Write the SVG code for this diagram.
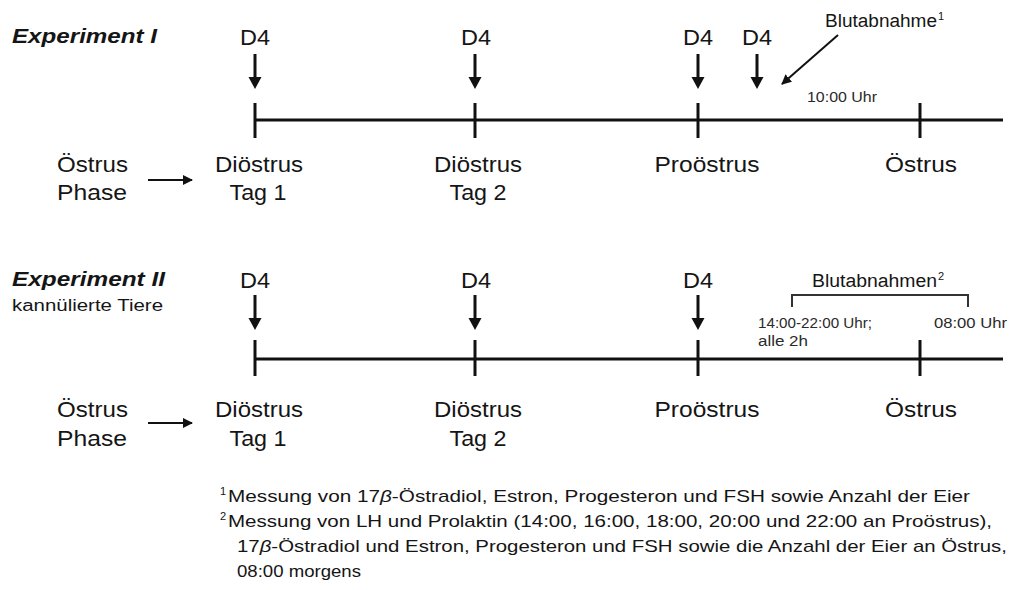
<svg xmlns="http://www.w3.org/2000/svg" width="1010" height="590" viewBox="0 0 1010 590">
  <style>
    text { font-family: "Liberation Sans", Arial, sans-serif; fill: #151515; }
    .title { font-size: 21px; font-weight: bold; font-style: italic; }
    .lbl { font-size: 21.5px; }
    .mid { text-anchor: middle; }
    .sub { font-size: 16px; }
    .small { font-size: 14px; fill: #2a2a2a; }
    .blut { font-size: 18px; }
    .sup { font-size: 11px; }
    .note { font-size: 17px; }
    .axis { stroke: #111; stroke-width: 3; fill: none; }
    .tick { stroke: #111; stroke-width: 3; }
    .shaft { stroke: #111; stroke-width: 3; }
    .head { fill: #111; }
    .thin { stroke: #111; stroke-width: 2; fill: none; }
    .bracket { stroke: #333; stroke-width: 2; fill: none; }
  </style>
  <defs>
    <marker id="tip" viewBox="0 0 10 10" refX="9" refY="5" markerWidth="5" markerHeight="5" orient="auto">
      <path d="M0,0 L10,5 L0,10 Z" fill="#111"/>
    </marker>
    <!-- downward dose arrow, tip at origin -->
    <g id="dose">
      <line class="shaft" x1="0" y1="-35" x2="0" y2="-10"/>
      <path class="head" d="M-6.5,-12 L6.5,-12 L0,0 Z"/>
    </g>
  </defs>

  <rect width="1010" height="590" fill="#ffffff"/>

  <!-- Experiment I -->
  <g id="exp1-title">
    <text class="title" x="12" y="43" textLength="145" lengthAdjust="spacingAndGlyphs">Experiment I</text>
  </g>
  <g id="exp1-timeline">
    <line class="axis" x1="255" y1="120" x2="1003" y2="120"/>
    <line class="tick" x1="255" y1="103" x2="255" y2="138"/>
    <line class="tick" x1="475" y1="103" x2="475" y2="138"/>
    <line class="tick" x1="698" y1="103" x2="698" y2="138"/>
    <line class="tick" x1="920" y1="103" x2="920" y2="138"/>
  </g>
  <g id="exp1-doses">
    <text class="lbl mid" x="255" y="45" textLength="30" lengthAdjust="spacingAndGlyphs">D4</text>
    <use href="#dose" x="255" y="89"/>
    <text class="lbl mid" x="476" y="45" textLength="30" lengthAdjust="spacingAndGlyphs">D4</text>
    <use href="#dose" x="475" y="89"/>
    <text class="lbl mid" x="698" y="45" textLength="30" lengthAdjust="spacingAndGlyphs">D4</text>
    <use href="#dose" x="698" y="89"/>
    <text class="lbl mid" x="757" y="45" textLength="30" lengthAdjust="spacingAndGlyphs">D4</text>
    <use href="#dose" x="757" y="89"/>
  </g>
  <g id="exp1-sampling">
    <text class="blut" x="825" y="27" textLength="112" lengthAdjust="spacingAndGlyphs">Blutabnahme</text>
    <text class="sup" x="938" y="20">1</text>
    <text class="small" x="807" y="102" textLength="70" lengthAdjust="spacingAndGlyphs">10:00 Uhr</text>
  </g>
  <g id="exp1-phases">
    <text class="lbl" x="57" y="172" textLength="71" lengthAdjust="spacingAndGlyphs">Östrus</text>
    <text class="lbl" x="57" y="200" textLength="70" lengthAdjust="spacingAndGlyphs">Phase</text>
    <text class="lbl mid" x="259" y="172" textLength="88" lengthAdjust="spacingAndGlyphs">Diöstrus</text>
    <text class="lbl mid" x="258" y="200" textLength="57" lengthAdjust="spacingAndGlyphs">Tag 1</text>
    <text class="lbl mid" x="478" y="172" textLength="88" lengthAdjust="spacingAndGlyphs">Diöstrus</text>
    <text class="lbl mid" x="478" y="200" textLength="57" lengthAdjust="spacingAndGlyphs">Tag 2</text>
    <text class="lbl mid" x="707" y="172" textLength="105" lengthAdjust="spacingAndGlyphs">Proöstrus</text>
    <text class="lbl mid" x="921" y="172" textLength="72" lengthAdjust="spacingAndGlyphs">Östrus</text>
  </g>

  <!-- Experiment II -->
  <g id="exp2-title">
    <text class="title" x="12" y="286" textLength="153" lengthAdjust="spacingAndGlyphs">Experiment II</text>
    <text class="sub" x="12" y="311" textLength="151" lengthAdjust="spacingAndGlyphs">kannülierte Tiere</text>
  </g>
  <g id="exp2-timeline">
    <line class="axis" x1="255" y1="359" x2="1003" y2="359"/>
    <line class="tick" x1="255" y1="340" x2="255" y2="376"/>
    <line class="tick" x1="475" y1="340" x2="475" y2="376"/>
    <line class="tick" x1="698" y1="340" x2="698" y2="376"/>
    <line class="tick" x1="920" y1="340" x2="920" y2="376"/>
  </g>
  <g id="exp2-doses">
    <text class="lbl mid" x="255" y="288" textLength="30" lengthAdjust="spacingAndGlyphs">D4</text>
    <use href="#dose" x="255" y="330"/>
    <text class="lbl mid" x="476" y="288" textLength="30" lengthAdjust="spacingAndGlyphs">D4</text>
    <use href="#dose" x="475" y="330"/>
    <text class="lbl mid" x="698" y="288" textLength="30" lengthAdjust="spacingAndGlyphs">D4</text>
    <use href="#dose" x="698" y="330"/>
  </g>
  <g id="exp2-sampling">
    <text class="blut" x="812" y="287" textLength="125" lengthAdjust="spacingAndGlyphs">Blutabnahmen</text>
    <text class="sup" x="938" y="280">2</text>
    <path class="bracket" d="M792,307 L792,295 L968,295 L968,307"/>
    <text class="small" x="758" y="328" textLength="114" lengthAdjust="spacingAndGlyphs">14:00-22:00 Uhr;</text>
    <text class="small" x="758" y="346" textLength="50" lengthAdjust="spacingAndGlyphs">alle 2h</text>
    <text class="small" x="934" y="328" textLength="73" lengthAdjust="spacingAndGlyphs">08:00 Uhr</text>
  </g>
  <g id="exp2-phases">
    <text class="lbl" x="57" y="417" textLength="71" lengthAdjust="spacingAndGlyphs">Östrus</text>
    <text class="lbl" x="57" y="446" textLength="70" lengthAdjust="spacingAndGlyphs">Phase</text>
    <text class="lbl mid" x="259" y="417" textLength="88" lengthAdjust="spacingAndGlyphs">Diöstrus</text>
    <text class="lbl mid" x="258" y="446" textLength="57" lengthAdjust="spacingAndGlyphs">Tag 1</text>
    <text class="lbl mid" x="478" y="417" textLength="88" lengthAdjust="spacingAndGlyphs">Diöstrus</text>
    <text class="lbl mid" x="478" y="446" textLength="57" lengthAdjust="spacingAndGlyphs">Tag 2</text>
    <text class="lbl mid" x="707" y="417" textLength="105" lengthAdjust="spacingAndGlyphs">Proöstrus</text>
    <text class="lbl mid" x="921" y="417" textLength="72" lengthAdjust="spacingAndGlyphs">Östrus</text>
  </g>

  <!-- connectors -->
  <g id="connectors">
    <line class="thin" x1="148" y1="180" x2="192" y2="180" marker-end="url(#tip)"/>
    <line class="thin" x1="148" y1="423" x2="192" y2="423" marker-end="url(#tip)"/>
    <line class="thin" x1="838" y1="35" x2="782" y2="84" marker-end="url(#tip)"/>
  </g>

  <!-- footnotes -->
  <g id="footnotes">
    <text class="sup" x="220" y="495">1</text>
    <text class="note" x="228" y="502" textLength="742" lengthAdjust="spacingAndGlyphs">Messung von 17<tspan font-style="italic">β</tspan>-Östradiol, Estron, Progesteron und FSH sowie Anzahl der Eier</text>
    <text class="sup" x="220" y="520">2</text>
    <text class="note" x="228" y="527" textLength="764" lengthAdjust="spacingAndGlyphs">Messung von LH und Prolaktin (14:00, 16:00, 18:00, 20:00 und 22:00 an Proöstrus),</text>
    <text class="note" x="237" y="552" textLength="770" lengthAdjust="spacingAndGlyphs">17<tspan font-style="italic">β</tspan>-Östradiol und Estron, Progesteron und FSH sowie die Anzahl der Eier an Östrus,</text>
    <text class="note" x="237" y="577" textLength="124" lengthAdjust="spacingAndGlyphs">08:00 morgens</text>
  </g>
</svg>
